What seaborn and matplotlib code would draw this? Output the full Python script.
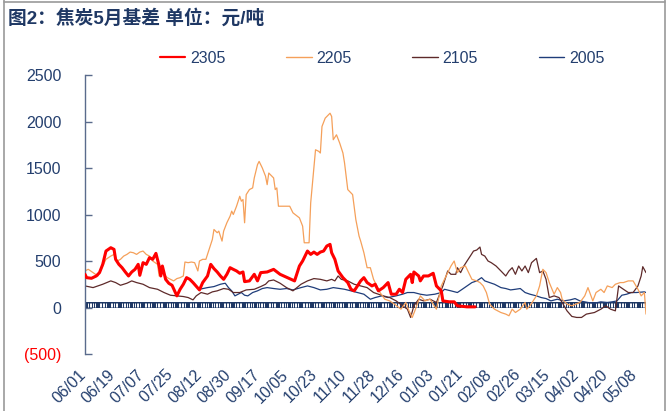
import numpy as np
import pandas as pd
import matplotlib
matplotlib.use("Agg")
import matplotlib.pyplot as plt
from matplotlib.lines import Line2D
from matplotlib.transforms import ScaledTranslation
import seaborn as sns

# ---------------- data (x = days since 06/01, y = basis in 元/吨) ----------------
start_date = "2019-06-01"   # the chart's month/day axis follows a leap-year calendar
tick_step_days = 18
n_ticks = 20

title = "图2：焦炭5月基差 单位：元/吨"
series_names = ["2305", "2205", "2105", "2005"]

days_2305 = [0, 1, 4, 7, 9, 11, 13, 16, 18, 19, 21, 23, 25, 27, 29, 31, 33, 34, 36, 38,
             40, 42, 44, 46, 47, 48, 50, 52, 54, 57, 59, 61, 63, 65, 67, 71, 73, 76, 78, 80,
             82, 84, 86, 88, 90, 92, 94, 96, 98, 99, 102, 105, 107, 109, 113, 117, 121, 130, 133, 135,
             138, 140, 142, 144, 146, 148, 150, 152, 153, 155, 157, 160, 163, 165, 167, 169, 171, 173, 175, 178,
             180, 182, 185, 188, 190, 193, 195, 197, 199, 202, 203, 204, 207, 208, 210, 213, 216, 218, 221, 222,
             226, 229, 231, 237, 242]
vals_2305 = [357, 321, 314, 339, 375, 464, 607, 643, 625, 518, 464, 428, 382, 339, 382, 410, 464, 346, 482, 464,
             536, 518, 582, 446, 339, 446, 303, 260, 239, 125, 196, 250, 321, 303, 268, 189, 268, 339, 464, 418,
             382, 339, 303, 357, 428, 410, 393, 368, 382, 278, 286, 357, 286, 375, 382, 410, 357, 286, 446, 500,
             607, 571, 596, 571, 596, 607, 661, 679, 589, 518, 393, 321, 268, 196, 179, 232, 286, 321, 268, 232,
             250, 179, 214, 268, 143, 143, 196, 161, 303, 357, 268, 382, 339, 286, 339, 339, 368, 232, 179, 71,
             61, 61, 18, 7, 7]

days_2205 = [0, 2, 5, 8, 11, 13, 16, 18, 20, 22, 24, 26, 28, 30, 32, 34, 36, 38, 40, 42,
             45, 46, 47, 49, 51, 53, 55, 57, 59, 61, 62, 64, 66, 68, 70, 71, 73, 75, 77, 79,
             80, 82, 83, 85, 86, 88, 90, 91, 92, 94, 96, 97, 98, 99, 100, 102, 104, 105, 107, 108,
             110, 112, 113, 114, 117, 118, 119, 120, 123, 127, 129, 133, 135, 136, 139, 140, 143, 145, 146, 147,
             149, 152, 153, 154, 156, 158, 160, 161, 163, 166, 168, 170, 171,
             173, 175, 177, 179, 181, 183, 186, 189, 192, 196, 199, 201, 203, 205, 208, 211, 214, 218, 221, 225,
             227, 229, 231, 233, 236, 238, 240, 243, 245, 247, 249, 251, 254, 258, 261, 263, 265, 267, 270, 273,
             274, 276, 280, 282, 284, 286, 288, 291, 293, 295, 296, 299, 302, 307, 310, 312, 315, 317, 320, 322,
             324, 327, 329, 332, 334, 337, 340, 343, 345, 347, 348]
vals_2205 = [393, 411, 375, 339, 446, 518, 553, 571, 500, 518, 553, 571, 596, 589, 571, 596, 607, 571, 553, 500,
             464, 339, 375, 357, 321, 303, 286, 311, 321, 339, 489, 482, 489, 482, 393, 500, 518, 518, 625, 732,
             839, 804, 821, 714, 821, 911, 982, 1036, 1000, 1089, 1196, 1143, 1161, 911, 1214, 1268, 1286, 1393, 1536, 1571,
             1500, 1411, 1321, 1446, 1393, 1268, 1286, 1089, 1089, 1089, 1018, 964, 875, 696, 696, 1125, 1696, 1679, 1661, 1946,
             2036, 2089, 2054, 1804, 1857, 1768, 1661, 1554, 1268, 1214, 946, 768, 714,
             589, 428, 428, 303, 232, 161, 89, 71, 36, -18, 54, -36, -107, -18, 125, 71, 89, -18, 232, 375,
             446, 500, 375, 428, 446, 375, 303, 286, 268, 232, 161, 36, -18, -54, -71, -89, -18, -54, -18, 54,
             -18, 18, 125, 232, 411, 375, 268, 143, 214, 161, 89, 36, 18, 54, 125, 214, 71, 161, 196, 161,
             232, 214, 250, 268, 268, 286, 286, 196, 125, 161, -71]

days_2105 = [0, 5, 11, 16, 19, 22, 26, 29, 32, 36, 40, 45, 49, 53, 57, 61, 64, 67, 69, 72,
             76, 79, 82, 86, 89, 92, 96, 100, 105, 109, 112, 114, 117, 121, 125, 129, 134, 138, 142, 146,
             150, 153, 155, 157, 159, 163, 167, 171, 175, 179, 185, 189, 193, 197, 200, 202, 204, 207, 210, 214,
             218, 222, 225, 227, 230, 231, 233, 235, 237, 239, 241, 243, 245, 246, 248, 250, 252, 255, 258, 261,
             263, 265, 267, 269, 271, 273, 275, 277, 280, 282, 284, 286, 288, 291, 294, 296, 299, 302, 305, 308,
             311, 316, 320, 323, 326, 329, 331, 334, 337, 340, 343, 345, 346, 348]
vals_2105 = [232, 214, 250, 286, 268, 239, 261, 286, 268, 250, 214, 196, 161, 132, 125, 118, 107, 82, 125, 161,
             143, 168, 179, 204, 196, 161, 161, 189, 196, 225, 250, 286, 296, 261, 214, 179, 250, 286, 311, 303,
             286, 303, 286, 339, 303, 286, 250, 232, 214, 161, 125, 107, 71, 18, -18, -107, 18, 89, 71, 89,
             54, 232, 393, 357, 357, 428, 375, 446, 500, 553, 607, 618, 650, 571, 553, 500, 482, 446, 393, 339,
             393, 428, 357, 446, 393, 446, 375, 482, 528, 375, 393, 303, 107, 125, 107, 54, -36, -96, -107, -107,
             -71, -54, -18, 18, -18, -36, 232, 196, 161, 161, 232, 339, 439, 375]

days_2005 = [71, 76, 80, 84, 87, 89, 91, 93, 95, 97, 99, 101, 104, 107, 110, 113, 117, 121, 125, 129,
             134, 138, 142, 146, 150, 154, 158, 161, 165, 169, 173, 177, 180, 184, 188, 193, 197, 200, 204, 208,
             212, 217, 221, 223, 227, 231, 234, 237, 240, 243, 246, 248, 251, 254, 258, 261, 264, 267, 270, 273,
             276, 280, 283, 286, 289, 293, 297, 301, 304, 307, 312, 316, 320, 324, 327, 330, 333, 336, 339, 342,
             347, 348]
vals_2005 = [196, 214, 225, 250, 261, 214, 179, 125, 143, 161, 132, 125, 161, 179, 204, 214, 204, 196, 204, 189,
             214, 232, 214, 189, 196, 214, 204, 196, 179, 161, 143, 89, 107, 125, 107, 125, 143, 161, 161, 143,
             132, 143, 161, 196, 179, 161, 196, 232, 268, 286, 321, 286, 268, 250, 214, 204, 189, 196, 204, 161,
             143, 125, 107, 96, 71, 89, 71, 82, 96, 71, 54, 46, 61, 54, 61, 71, 132, 143, 161, 161,
             168, 161]

y_ticks = [-500, 0, 500, 1000, 1500, 2000, 2500]

# ---------------- style ----------------
sns.set_theme(style="white")
plt.rcParams["font.family"] = ["Liberation Sans", "Noto Sans CJK SC", "DejaVu Sans"]

NAVY = "#1F3864"
TXT = "#243F6E"
colors = {"2305": "#FF0000", "2205": "#F5A05A", "2105": "#5E2A2A", "2005": "#1F3D7A"}
widths = {"2305": 2.2, "2205": 0.9, "2105": 0.9, "2005": 0.9}

base = pd.Timestamp(start_date)
def to_dates(d):
    return base + pd.to_timedelta(np.asarray(d), unit="D")

frames = []
for name, d, v in [("2305", days_2305, vals_2305), ("2205", days_2205, vals_2205),
                   ("2105", days_2105, vals_2105), ("2005", days_2005, vals_2005)]:
    frames.append(pd.DataFrame({"date": to_dates(d), "basis": v, "series": name}))
df = pd.concat(frames, ignore_index=True)

fig = plt.figure(figsize=(6.71, 4.11), dpi=100)
ax = fig.add_axes([85 / 671, 1 - 354 / 411, (646 - 85) / 671, (354 - 75) / 411])

x_end = base + pd.Timedelta(days=max(days_2205))
ax.set_xlim(base, x_end)
ax.set_ylim(-500, 2500)

# horizontal category axis drawn at zero: navy band with white gaps (one mark per trading day)
bdays = pd.bdate_range(base, x_end)
ax.axhspan(0, 60, color=NAVY, lw=0, zorder=1)
ax.vlines(bdays, 10, 50, color="white", lw=0.7, zorder=1.5)

# draw order: 2005, 2105, 2205 underneath, 2305 on top
for name in ["2005", "2105", "2205", "2305"]:
    sub = df[df["series"] == name]
    sns.lineplot(data=sub, x="date", y="basis", ax=ax, color=colors[name],
                 lw=widths[name], sort=False, estimator=None, legend=False,
                 zorder=3 if name == "2305" else 2)

ax.set_xlabel("")
ax.set_ylabel("")

# spines
for s in ["top", "right", "bottom"]:
    ax.spines[s].set_visible(False)
ax.spines["left"].set_color("#5A6B8C")
ax.spines["left"].set_linewidth(1.0)

# y axis
ax.set_yticks(y_ticks)
ax.set_yticklabels([f"({abs(t)})" if t < 0 else f"{t}" for t in y_ticks])
ax.tick_params(axis="y", direction="in", length=5, width=1.0, color="#5A6B8C",
               pad=17, labelsize=11.5, left=True)
for lab, t in zip(ax.get_yticklabels(), y_ticks):
    lab.set_color("#FF0000" if t < 0 else TXT)

# x axis
tick_dates = pd.date_range(base, periods=n_ticks, freq=f"{tick_step_days}D")
ax.set_xticks(tick_dates)
ax.set_xticklabels([d.strftime("%m/%d") for d in tick_dates])
ax.tick_params(axis="x", length=0, pad=13, labelsize=11.5, labelcolor=TXT, bottom=True)
off = ScaledTranslation(-2 / 100, 0, fig.dpi_scale_trans)
for lab in ax.get_xticklabels():
    lab.set_rotation(45)
    lab.set_ha("right")
    lab.set_va("center")
    lab.set_rotation_mode("anchor")
    lab.set_transform(lab.get_transform() + off)

ax.grid(False)

# legend
handles = [Line2D([], [], color=colors[n], lw=1.6 if n == "2305" else 1.0) for n in series_names]
leg = fig.legend(handles, series_names, loc="center", ncol=4,
                 bbox_to_anchor=(382 / 671, 1 - 58 / 411), frameon=False,
                 fontsize=11.5, handlelength=1.6, handletextpad=0.3, columnspacing=3.8)
for t in leg.get_texts():
    t.set_color(TXT)

# title
fig.text(8 / 671, 1 - 18 / 411, title, ha="left", va="center", fontsize=13.5,
         fontweight="bold", color=NAVY)

# outer frame (left, right, top)
frame_c = "#9A9A9A"
fig.add_artist(Line2D([4 / 671, 4 / 671], [0, 1], transform=fig.transFigure, color=frame_c, lw=1.2))
fig.add_artist(Line2D([665 / 671, 665 / 671], [0, 1], transform=fig.transFigure, color=frame_c, lw=1.2))
fig.add_artist(Line2D([4 / 671, 665 / 671], [1 - 2 / 411, 1 - 2 / 411], transform=fig.transFigure, color=frame_c, lw=1.2))

fig.savefig("out.png", dpi=100)
